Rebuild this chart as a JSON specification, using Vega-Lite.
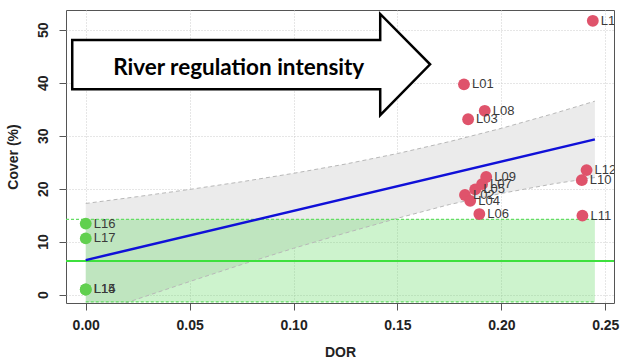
{
  "$schema": "https://vega.github.io/schema/vega-lite/v6.json",
  "width": 548,
  "height": 293,
  "autosize": {"type": "none"},
  "padding": {"left": 66, "top": 10, "right": 8, "bottom": 60},
  "background": "white",
  "config": {
    "font": "Liberation Sans",
    "view": {"stroke": "#555555", "strokeWidth": 1},
    "axis": {
      "grid": true, "gridColor": "#cccccc", "gridDash": [1, 2], "gridWidth": 1,
      "domain": false, "tickColor": "#555555", "tickSize": 7, "tickWidth": 1,
      "labelFont": "Liberation Sans", "labelFontSize": 14, "labelFontWeight": "bold", "labelColor": "#222222",
      "titleFont": "Liberation Sans", "titleFontSize": 14, "titleFontWeight": "bold", "titleColor": "#222222"
    },
    "axisX": {"labelPadding": 8, "titlePadding": 13},
    "axisY": {"labelAngle": -90, "labelAlign": "center", "labelBaseline": "bottom", "labelPadding": 9, "titlePadding": 16}
  },
  "datasets": {
    "band": [
      {"x": 0, "y": 17.2, "lo": -4.2},
      {"x": 0.025, "y": 18.49, "lo": -0.83},
      {"x": 0.05, "y": 19.85, "lo": 2.45},
      {"x": 0.075, "y": 21.3, "lo": 5.66},
      {"x": 0.1, "y": 22.89, "lo": 8.73},
      {"x": 0.125, "y": 24.64, "lo": 11.62},
      {"x": 0.15, "y": 26.63, "lo": 14.4},
      {"x": 0.175, "y": 28.88, "lo": 17.0},
      {"x": 0.2, "y": 31.39, "lo": 19.1},
      {"x": 0.225, "y": 34.16, "lo": 20.9},
      {"x": 0.245, "y": 36.52, "lo": 22.1}
    ],
    "green": [{"x": 0, "x2": 0.245, "y": 14.2, "y2": -1.4}],
    "gdash": [
      {"g": "top", "x": -0.0095, "y": 14.2},
      {"g": "top", "x": 0.245, "y": 14.2},
      {"g": "bottom", "x": 0, "y": -1.4},
      {"g": "bottom", "x": 0.245, "y": -1.4}
    ],
    "hline": [{"x": -0.0095, "y": 6.35}, {"x": 0.2542, "y": 6.35}],
    "fit": [{"x": 0, "y": 6.5}, {"x": 0.245, "y": 29.3}],
    "arrow": [
      {"o": 1, "x": -0.0065, "y": 48.07},
      {"o": 2, "x": 0.1417, "y": 48.07},
      {"o": 3, "x": 0.1417, "y": 52.99},
      {"o": 4, "x": 0.1657, "y": 43.48},
      {"o": 5, "x": 0.1417, "y": 33.88},
      {"o": 6, "x": 0.1417, "y": 38.75},
      {"o": 7, "x": -0.0065, "y": 38.75}
    ],
    "arrowtext": [{"x": 0.0736, "y": 42.72, "t": "River regulation intensity"}],
    "points": [
      {"label": "L01", "x": 0.182, "y": 39.7, "grp": "r"},
      {"label": "L02", "x": 0.1825, "y": 18.8, "grp": "r"},
      {"label": "L03", "x": 0.184, "y": 33.1, "grp": "r"},
      {"label": "L04", "x": 0.185, "y": 17.7, "grp": "r"},
      {"label": "L05", "x": 0.1874, "y": 19.85, "grp": "r"},
      {"label": "L06", "x": 0.1894, "y": 15.2, "grp": "r"},
      {"label": "L07", "x": 0.1907, "y": 20.85, "grp": "r"},
      {"label": "L08", "x": 0.192, "y": 34.7, "grp": "r"},
      {"label": "L09", "x": 0.1927, "y": 22.2, "grp": "r"},
      {"label": "L10", "x": 0.2387, "y": 21.6, "grp": "r"},
      {"label": "L11", "x": 0.239, "y": 14.9, "grp": "r"},
      {"label": "L12", "x": 0.241, "y": 23.5, "grp": "r"},
      {"label": "L13", "x": 0.244, "y": 51.7, "grp": "r"},
      {"label": "L14", "x": 0, "y": 0.95, "grp": "g"},
      {"label": "L15", "x": 0, "y": 0.95, "grp": "g"},
      {"label": "L16", "x": 0, "y": 13.4, "grp": "g"},
      {"label": "L17", "x": 0, "y": 10.6, "grp": "g"}
    ]
  },
  "layer": [
    {
      "data": {"name": "band"},
      "mark": {"type": "area", "fill": "#ebebeb", "clip": true},
      "encoding": {
        "x": {"field": "x", "type": "quantitative", "scale": {"domain": [-0.0095, 0.2542], "nice": false, "zero": false}, "title": "DOR", "axis": {"values": [0, 0.05, 0.1, 0.15, 0.2, 0.25], "format": ".2f"}},
        "y": {"field": "y", "type": "quantitative", "scale": {"domain": [-1.6, 53.74], "nice": false, "zero": false}, "title": "Cover (%)", "axis": {"values": [0, 10, 20, 30, 40, 50]}},
        "y2": {"field": "lo"}
      }
    },
    {
      "data": {"name": "green"},
      "mark": {"type": "rect", "fill": "#62da62", "fillOpacity": 0.32},
      "encoding": {
        "x": {"field": "x", "type": "quantitative", "scale": {"domain": [-0.0095, 0.2542], "nice": false, "zero": false}, "title": "DOR"},
        "x2": {"field": "x2"},
        "y": {"field": "y", "type": "quantitative", "scale": {"domain": [-1.6, 53.74], "nice": false, "zero": false}, "title": "Cover (%)"},
        "y2": {"field": "y2"}
      }
    },
    {
      "data": {"name": "band"},
      "mark": {"type": "line", "stroke": "#b8b8b8", "strokeWidth": 1, "strokeDash": [4, 3], "clip": true},
      "encoding": {
        "x": {"field": "x", "type": "quantitative", "scale": {"domain": [-0.0095, 0.2542], "nice": false, "zero": false}, "title": "DOR"},
        "y": {"field": "y", "type": "quantitative", "scale": {"domain": [-1.6, 53.74], "nice": false, "zero": false}, "title": "Cover (%)"}
      }
    },
    {
      "data": {"name": "band"},
      "mark": {"type": "line", "stroke": "#b8b8b8", "strokeWidth": 1, "strokeDash": [4, 3], "clip": true},
      "encoding": {
        "x": {"field": "x", "type": "quantitative", "scale": {"domain": [-0.0095, 0.2542], "nice": false, "zero": false}, "title": "DOR"},
        "y": {"field": "lo", "type": "quantitative", "scale": {"domain": [-1.6, 53.74], "nice": false, "zero": false}, "title": "Cover (%)"}
      }
    },
    {
      "data": {"name": "gdash"},
      "mark": {"type": "line", "stroke": "#66dd66", "strokeWidth": 1.2, "strokeDash": [3, 2]},
      "encoding": {
        "x": {"field": "x", "type": "quantitative", "scale": {"domain": [-0.0095, 0.2542], "nice": false, "zero": false}, "title": "DOR"},
        "y": {"field": "y", "type": "quantitative", "scale": {"domain": [-1.6, 53.74], "nice": false, "zero": false}, "title": "Cover (%)"},
        "detail": {"field": "g"}
      }
    },
    {
      "data": {"name": "hline"},
      "mark": {"type": "line", "stroke": "#3de03d", "strokeWidth": 2},
      "encoding": {
        "x": {"field": "x", "type": "quantitative", "scale": {"domain": [-0.0095, 0.2542], "nice": false, "zero": false}, "title": "DOR"},
        "y": {"field": "y", "type": "quantitative", "scale": {"domain": [-1.6, 53.74], "nice": false, "zero": false}, "title": "Cover (%)"}
      }
    },
    {
      "data": {"name": "fit"},
      "mark": {"type": "line", "stroke": "#1010d8", "strokeWidth": 2.5},
      "encoding": {
        "x": {"field": "x", "type": "quantitative", "scale": {"domain": [-0.0095, 0.2542], "nice": false, "zero": false}, "title": "DOR"},
        "y": {"field": "y", "type": "quantitative", "scale": {"domain": [-1.6, 53.74], "nice": false, "zero": false}, "title": "Cover (%)"}
      }
    },
    {
      "data": {"name": "arrow"},
      "mark": {"type": "line", "interpolate": "linear-closed", "fill": "white", "stroke": "black", "strokeWidth": 2.5, "strokeJoin": "miter"},
      "encoding": {
        "x": {"field": "x", "type": "quantitative", "scale": {"domain": [-0.0095, 0.2542], "nice": false, "zero": false}, "title": "DOR"},
        "y": {"field": "y", "type": "quantitative", "scale": {"domain": [-1.6, 53.74], "nice": false, "zero": false}, "title": "Cover (%)"},
        "order": {"field": "o", "type": "quantitative"}
      }
    },
    {
      "data": {"name": "arrowtext"},
      "mark": {"type": "text", "font": "Lato", "fontWeight": "bold", "fontSize": 22.5, "color": "black", "align": "center", "baseline": "middle"},
      "encoding": {
        "x": {"field": "x", "type": "quantitative", "scale": {"domain": [-0.0095, 0.2542], "nice": false, "zero": false}, "title": "DOR"},
        "y": {"field": "y", "type": "quantitative", "scale": {"domain": [-1.6, 53.74], "nice": false, "zero": false}, "title": "Cover (%)"},
        "text": {"field": "t"}
      }
    },
    {
      "data": {"name": "points"},
      "mark": {"type": "circle", "size": 140, "opacity": 1},
      "encoding": {
        "x": {"field": "x", "type": "quantitative", "scale": {"domain": [-0.0095, 0.2542], "nice": false, "zero": false}, "title": "DOR"},
        "y": {"field": "y", "type": "quantitative", "scale": {"domain": [-1.6, 53.74], "nice": false, "zero": false}, "title": "Cover (%)"},
        "color": {"field": "grp", "type": "nominal", "scale": {"domain": ["r", "g"], "range": ["#DF536B", "#61D04F"]}, "legend": null}
      }
    },
    {
      "data": {"name": "points"},
      "mark": {"type": "text", "align": "left", "baseline": "middle", "dx": 8, "fontSize": 13, "color": "#3a3a3a", "clip": true},
      "encoding": {
        "x": {"field": "x", "type": "quantitative", "scale": {"domain": [-0.0095, 0.2542], "nice": false, "zero": false}, "title": "DOR"},
        "y": {"field": "y", "type": "quantitative", "scale": {"domain": [-1.6, 53.74], "nice": false, "zero": false}, "title": "Cover (%)"},
        "text": {"field": "label"}
      }
    }
  ]
}
